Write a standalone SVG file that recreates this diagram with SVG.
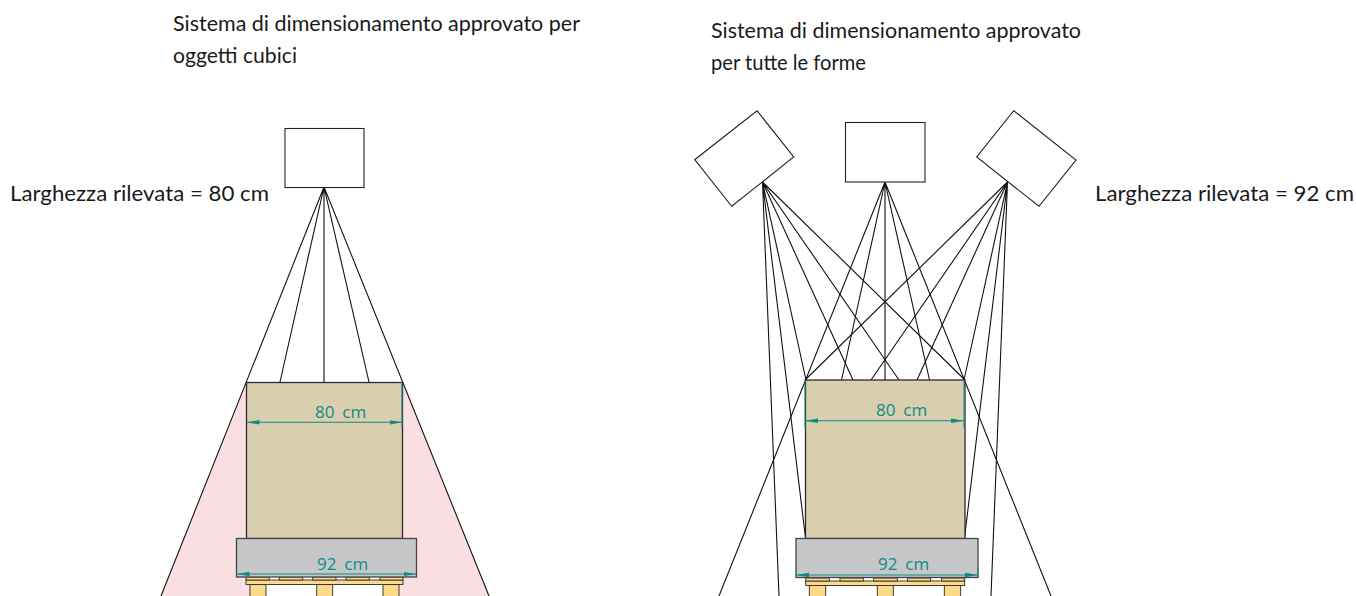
<svg xmlns="http://www.w3.org/2000/svg" width="1356" height="596" viewBox="0 0 1356 596">
<style>
.lbl{font-family:"Lato","Liberation Sans",sans-serif;font-size:21px;fill:#1a1a1a}
.dimt{font-family:"Open Sans","Liberation Sans",sans-serif;font-size:17px;word-spacing:3.500px;fill:#108a84}
.cam{fill:#fff;stroke:#222;stroke-width:1.100}
.ray{stroke:#111;stroke-width:1.100;fill:none}
.box{fill:#d9cfae;stroke:#2a2a2a;stroke-width:1.300}
.base{fill:#c6c7c9;stroke:#444;stroke-width:1.300}
.dim{stroke:#108a84;stroke-width:1.100;fill:none;marker-start:url(#as);marker-end:url(#ae)}
.tick{stroke:#108a84;stroke-width:1;fill:none}
.wood{fill:#fdd98a;stroke:#2a2a2a;stroke-width:.9}
</style>
<defs>
<marker id="ae" markerUnits="userSpaceOnUse" markerWidth="14" markerHeight="6" refX="13" refY="3" orient="auto"><path d="M0 .8L13 3L0 5.200z" fill="#108a84"/></marker>
<marker id="as" markerUnits="userSpaceOnUse" markerWidth="14" markerHeight="6" refX="0" refY="3" orient="auto"><path d="M13 .8L0 3L13 5.200z" fill="#108a84"/></marker>
</defs>
<rect width="1356" height="596" fill="#fff"/>
<g id="shadow">
<path d="M246.300 382L161 596H489L402.700 382V577H246.300z" fill="#fadfe2"/>
<rect x="250" y="585" width="149" height="11" fill="#fff"/>
</g>
<g id="connectors">
<path class="ray" d="M324 187L161 596M324 187L280 382M324 187V382M324 187L369 382M324 187L489 596"/>
<path class="ray" d="M762.500 182L779 596M762.500 182L805.500 538M762.500 182L806 380M762.500 182L853 380M762.500 182L899 380M762.500 182L965 380"/>
<path class="ray" d="M885 182L719 596M885 182L841.500 380M885 182V380M885 182L929.500 380M885 182L1051 596"/>
<path class="ray" d="M1007.500 182L991 596M1007.500 182L964.500 538M1007.500 182L964 380M1007.500 182L917 380M1007.500 182L871 380M1007.500 182L805 380"/>
</g>
<g id="camera-left"><rect class="cam" x="285" y="128.500" width="79" height="59"/></g>
<g id="camera-right-a"><path class="cam" d="M757 110.700L793.700 157L731.700 206.300L694.700 159.700z"/></g>
<g id="camera-right-b"><rect class="cam" x="845.500" y="122.500" width="79.500" height="59.500"/></g>
<g id="camera-right-c"><path class="cam" d="M1013.700 110.700L1076 160L1039 206.300L976.700 157z"/></g>
<g id="pallet-left">
<rect x="246" y="577" width="157" height="4" fill="#fff"/>
<rect class="wood" x="250" y="584.500" width="16" height="13"/><rect class="wood" x="316.700" y="584.500" width="16" height="13"/><rect class="wood" x="383" y="584.500" width="16" height="13"/>
<rect class="wood" x="246" y="580" width="157" height="4.500"/>
<rect class="wood" x="246" y="577" width="23.300" height="3"/><rect class="wood" x="279.300" y="577" width="23.400" height="3"/><rect class="wood" x="312.700" y="577" width="23.300" height="3"/><rect class="wood" x="346" y="577" width="23.300" height="3"/><rect class="wood" x="380" y="577" width="23" height="3"/>
</g>
<g id="pallet-right">
<rect class="wood" x="809.300" y="585" width="16.400" height="13"/><rect class="wood" x="877.300" y="585" width="16" height="13"/><rect class="wood" x="944.300" y="585" width="16.400" height="13"/>
<rect class="wood" x="805.700" y="581" width="159" height="4.500"/>
<rect class="wood" x="805.700" y="578" width="23.600" height="3"/><rect class="wood" x="840" y="578" width="23.300" height="3"/><rect class="wood" x="873.700" y="578" width="23.600" height="3"/><rect class="wood" x="907.300" y="578" width="23.400" height="3"/><rect class="wood" x="941.700" y="578" width="23" height="3"/>
</g>
<g id="load-left">
<rect class="box" x="246.500" y="382.500" width="156" height="156"/>
<rect class="base" x="236.500" y="538.500" width="180" height="38.500"/>
<path class="tick" d="M402 384V428"/>
<path class="dim" d="M246.500 422.300H402.500"/>
<path class="dim" d="M236.500 574H416.500"/>
<text class="dimt" x="315" y="418">80 cm</text>
<text class="dimt" x="317" y="570">92 cm</text>
</g>
<g id="load-right">
<rect class="box" x="805.500" y="380" width="159.500" height="158.500"/>
<rect class="base" x="796" y="538.500" width="182" height="39"/>
<path class="tick" d="M805 381V428M964 381V428M978 568V577"/>
<path class="dim" d="M805 420.700H964"/>
<path class="dim" d="M796 575H978"/>
<text class="dimt" x="876" y="416">80 cm</text>
<text class="dimt" x="878" y="570">92 cm</text>
</g>
<g id="labels">
<text class="lbl" x="173" y="31" textLength="407" lengthAdjust="spacingAndGlyphs">Sistema di dimensionamento approvato per</text>
<text class="lbl" x="173" y="63" textLength="124" lengthAdjust="spacingAndGlyphs">oggetti cubici</text>
<text class="lbl" x="711" y="38" textLength="370" lengthAdjust="spacingAndGlyphs">Sistema di dimensionamento approvato</text>
<text class="lbl" x="711" y="70" textLength="155" lengthAdjust="spacingAndGlyphs">per tutte le forme</text>
<text class="lbl" x="10" y="201" textLength="259" lengthAdjust="spacingAndGlyphs">Larghezza rilevata = 80 cm</text>
<text class="lbl" x="1095" y="201" textLength="259" lengthAdjust="spacingAndGlyphs">Larghezza rilevata = 92 cm</text>
</g>
</svg>
